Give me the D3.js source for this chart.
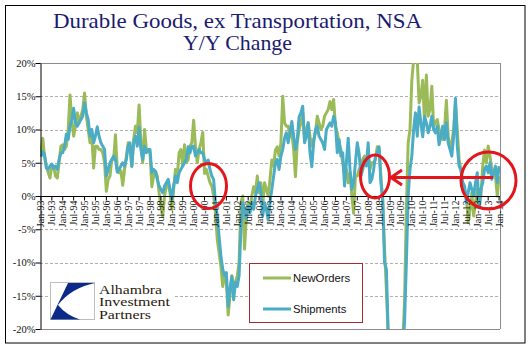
<!DOCTYPE html>
<html>
<head>
<meta charset="utf-8">
<script src="https://cdn.jsdelivr.net/npm/d3@7"></script>
<style>
  body { margin: 0; background: #fff; }
  svg { display: block; }
</style>
</head>
<body>
<svg id="chart" width="529" height="350"></svg>
<script>
// ---- Data (Y/Y % change, monthly, Jan-93 .. Jan-14) ----
const tickLabels = ["Jan-93","Jul-93","Jan-94","Jul-94","Jan-95","Jul-95","Jan-96","Jul-96",
  "Jan-97","Jul-97","Jan-98","Jul-98","Jan-99","Jul-99","Jan-00","Jul-00","Jan-01","Jul-01",
  "Jan-02","Jul-02","Jan-03","Jul-03","Jan-04","Jul-04","Jan-05","Jul-05","Jan-06","Jul-06",
  "Jan-07","Jul-07","Jan-08","Jul-08","Jan-09","Jul-09","Jan-10","Jul-10","Jan-11","Jul-11",
  "Jan-12","Jul-12","Jan-13","Jul-13","Jan-14"];

const newOrders = [
  6.5, 8.7, 6.0, 4.5, 3.5, 2.7, 4.5, 4.5, 3.0, 2.7, 5.0, 7.5,
  7.7, 7.0, 7.5, 10.0, 15.2, 11.5, 9.0, 10.5, 12.5, 11.0, 12.0, 13.0,
  15.5, 12.0, 10.0, 8.0, 9.0, 4.2, 7.5, 7.5, 7.0, 7.0, 6.5, 5.0,
  0.7, 2.5, 3.0, 5.5, 5.5, 9.2, 4.0, 3.5, 3.8, 1.6, 4.0, 6.0,
  8.0, 7.5, 4.4, 8.5, 10.5, 9.5, 13.7, 8.0, 5.0, 10.0, 7.0, 6.7,
  6.5, 1.4, 3.0, 3.7, 3.0, 0.5, -1.5, -3.0, 0.0, 1.5, 2.0, 0.5,
  -2.0, 1.0, 4.0, 3.0, 6.5, 7.0, 4.5, 7.7, 5.0, 5.5, 7.5, 8.0,
  11.4, 7.5, 5.0, 7.0, 8.0, 9.6, 3.4, 4.0, 3.0, 2.0, 1.5, 0.0,
  -2.5, -6.6, -8.5, -10.6, -13.6, -12.0, -13.0, -17.9, -15.0, -12.0, -13.5, -13.0,
  -12.0, -10.0, -1.0, 0.0, -8.0, -3.0, -1.0, -2.0, 0.0, 1.4, 0.5, 3.0,
  0.5, 2.0, -1.5, 2.0, 1.0, 0.0, 2.5, 5.4, 4.5, 6.9, 7.4, 6.0,
  8.0, 15.0, 11.0, 10.5, 10.5, 9.0, 9.5, 7.0, 2.9, 8.0, 10.0, 11.0,
  12.5, 8.5, 10.0, 11.0, 9.0, 7.5, 8.5, 9.5, 12.0, 11.0, 10.0, 10.5,
  12.0, 12.5, 13.0, 14.2, 13.0, 14.5, 10.5, 9.5, 8.0, 7.0, 5.0, 3.0,
  4.0, 2.0, 3.5, 0.0, -2.6, 3.0, 3.0, 4.0, 4.5, 5.5, 6.0, 5.0,
  6.2, 4.0, 5.0, 5.0, 5.5, 7.4, 7.0, 3.0, -1.0, -8.0, -14.0, -21.0,
  -24.0, -27.0, -28.0, -27.0, -26.0, -25.0, -24.0, -22.0, -16.0, -2.0, 8.0, 10.0,
  17.4, 20.5, 21.0, 20.5, 14.0, 15.0, 17.4, 11.0, 18.2, 12.0, 13.0, 16.5,
  10.5, 11.0, 11.5, 10.0, 9.0, 8.5, 10.0, 14.4, 9.0, 7.2, 8.0, 10.0,
  14.0, 10.0, 5.5, 4.0, 2.0, 1.0, 0.0, -4.0, -2.0, 0.5, -3.0, -1.0,
  1.0, -1.5, 0.0, 4.5, 6.9, 5.0, 7.5, 6.0, 4.0, 3.5, 3.0, 0.0,
  3.0
];

const shipments = [
  5.9, 6.7, 6.2, 4.2, 4.0, 4.5, 4.8, 4.2, 4.5, 4.0, 5.5, 6.5,
  6.5, 7.5, 9.3, 8.5, 10.5, 11.5, 13.2, 11.0, 10.5, 11.0, 11.5, 12.0,
  14.0, 12.5, 11.5, 9.0, 10.0, 8.0, 9.0, 10.4, 9.0, 8.0, 7.5, 7.0,
  3.0, 4.0, 5.0, 5.5, 6.0, 5.5, 3.6, 4.0, 4.5, 5.0, 4.5, 5.5,
  7.5, 8.0, 4.5, 8.0, 9.0, 7.5, 10.3, 7.0, 5.5, 7.5, 6.5, 7.0,
  7.0, 3.5, 4.0, 3.7, 2.5, 1.5, 1.0, 0.5, 1.5, 2.0, 2.5, 1.0,
  -0.5, 1.5, 3.0, 2.0, 3.5, 4.0, 4.5, 5.0, 5.5, 7.4, 6.5, 7.5,
  7.5, 6.0, 6.5, 7.0, 6.5, 6.5, 5.5, 5.0, 5.4, 4.0, 3.0, 2.5,
  -1.0, -3.0, -6.1, -9.0, -11.0, -12.0, -11.5, -16.6, -14.0, -12.1, -15.6, -13.0,
  -13.6, -12.0, -5.0, -1.0, -2.0, -3.5, -1.5, -2.5, -1.0, -2.0, 0.0, 1.0,
  2.0, 0.5, -3.0, -1.0, -2.0, -3.6, -1.0, 1.0, 3.0, 5.0, 5.5, 4.0,
  6.0, 7.0, 8.7, 9.5, 8.0, 9.5, 11.2, 9.0, 7.0, 8.5, 11.9, 12.5,
  13.5, 8.0, 9.0, 11.0, 6.5, 4.4, 8.0, 10.0, 10.5, 9.0, 8.5, 8.0,
  7.0, 10.0, 10.5, 11.0, 10.5, 12.0, 11.0, 6.5, 8.5, 6.0, 6.5, 1.5,
  5.0, 8.7, 4.0, 1.0, 2.0, 5.0, 8.0, 6.4, 3.0, 4.0, 5.5, 4.5,
  8.0, 2.0, 2.5, 4.0, 6.0, 6.5, 7.4, 2.0, -0.3, -10.0, -11.0, -20.5,
  -23.0, -26.0, -27.0, -27.0, -26.0, -25.0, -24.0, -23.0, -19.0, -10.0, 0.0, 4.0,
  6.0, 10.0, 12.5, 9.0, 13.4, 11.0, 8.9, 12.0, 11.0, 9.5, 10.5, 12.0,
  10.0, 9.5, 10.5, 7.7, 9.0, 10.5, 8.5, 11.0, 8.0, 7.0, 6.0, 9.0,
  14.7, 7.5, 4.5, 3.9, 2.0, 1.5, -1.0, 0.5, 2.0, 1.0, 0.0, 2.0,
  3.5, -1.8, 1.0, 2.0, 4.0, 4.5, 3.5, 5.0, 2.5, 3.5, 4.5, 2.0,
  4.5
];

const yTicks = [-20, -15, -10, -5, 0, 5, 10, 15, 20];
const seriesNames = ["NewOrders", "Shipments"];
const seriesColors = ["#9BBB59", "#4BACC6"];
const logoLines = ["Alhambra", "Investment", "Partners"];

// ---- Layout ----
const svg = d3.select("#chart");
const L = 40, R = 500, T = 63, B = 329;

svg.append("rect").attr("x", 0).attr("y", 0).attr("width", 529).attr("height", 350).attr("fill", "#fff");
svg.append("rect").attr("x", 5.5).attr("y", 5.5).attr("width", 519.5).attr("height", 337.5)
  .attr("fill", "none").attr("stroke", "#000").attr("stroke-width", 1);

const idx = d3.range(newOrders.length);
const x = d3.scaleBand().domain(idx).range([L, R]).paddingInner(0).paddingOuter(0);
const xc = i => x(i) + x.bandwidth() / 2;
const y = d3.scaleLinear().domain([-20, 20]).range([B, T]);

// Title
const title = svg.append("g").attr("font-family", "'Liberation Serif', 'Times New Roman', serif")
  .attr("fill", "#1B1B6F").attr("text-anchor", "middle");
title.append("text").attr("x", 237.5).attr("y", 28).attr("font-size", 21)
  .attr("textLength", 369).attr("lengthAdjust", "spacingAndGlyphs")
  .text("Durable Goods, ex Transportation,  NSA");
title.append("text").attr("x", 237.5).attr("y", 50).attr("font-size", 21)
  .attr("textLength", 109).attr("lengthAdjust", "spacingAndGlyphs")
  .text("Y/Y Change");

// Gridlines
svg.append("g").selectAll("line").data(yTicks.filter(v => v !== 0))
  .join("line")
  .attr("x1", L).attr("x2", R)
  .attr("y1", d => Math.round(y(d)) + 0.5).attr("y2", d => Math.round(y(d)) + 0.5)
  .attr("stroke", d => Math.abs(d) === 20 ? "#8c8c8c" : "#b0b0b0")
  .attr("stroke-width", 1)
  .attr("stroke-dasharray", d => Math.abs(d) === 20 ? null : "3,2");
svg.append("line").attr("x1", R + 0.5).attr("x2", R + 0.5).attr("y1", T).attr("y2", B)
  .attr("stroke", "#8c8c8c");

// Clip
svg.append("defs").append("clipPath").attr("id", "plotclip")
  .append("rect").attr("x", L).attr("y", T).attr("width", R - L).attr("height", B - T);

// Logo
const logo = svg.append("g");
logo.append("rect").attr("x", 48).attr("y", 279).attr("width", 126).attr("height", 44).attr("fill", "#fff");
logo.append("rect").attr("x", 50.5).attr("y", 282.5).attr("width", 44).attr("height", 37)
  .attr("fill", "#fff").attr("stroke", "#bdbdbd").attr("stroke-width", 1);
logo.append("path").attr("d", "M68,283 L95,283 Q71,288 58,305 Q66,315 80,319.5 L50.5,319.5 Z")
  .attr("fill", "#0B2A8A");
const lt = logo.append("g").attr("font-family", "'Liberation Serif', 'Times New Roman', serif")
  .attr("font-size", 12.5).attr("fill", "#2a1a10");
const logoLens = [63, 71, 52];
logoLines.forEach((t, k) => {
  lt.append("text").attr("x", 99).attr("y", 293.5 + k * 12.5)
    .attr("textLength", logoLens[k]).attr("lengthAdjust", "spacingAndGlyphs").text(t);
});

// Lines
const line = d3.line().x((d, i) => xc(i)).y(d => y(d));
const plot = svg.append("g").attr("clip-path", "url(#plotclip)");
[newOrders, shipments].forEach((s, k) => {
  plot.append("path").datum(s).attr("d", line)
    .attr("fill", "none").attr("stroke", seriesColors[k]).attr("stroke-width", 3)
    .attr("stroke-linejoin", "round");
});

// Y axis
const yAxis = d3.axisLeft(y).tickValues(yTicks).tickFormat(d => d + "%").tickSize(5).tickSizeOuter(0);
const ya = svg.append("g").attr("transform", `translate(${L + 0.5},0)`).call(yAxis);
ya.selectAll("path, line").attr("stroke", "#000");
ya.selectAll("text").attr("font-family", "'Liberation Serif', 'Times New Roman', serif")
  .attr("font-size", 10.5).attr("fill", "#111").attr("x", -5);

// X axis at 0%
const tickIdx = tickLabels.map((_, j) => j * 6);
const y0 = Math.round(y(0)) + 0.5;
const xAxis = d3.axisBottom(x).tickValues(tickIdx).tickFormat((d, j) => tickLabels[j]).tickSize(4).tickSizeOuter(0);
const xa = svg.append("g").attr("transform", `translate(0,${y0})`).call(xAxis);
xa.select(".domain").attr("d", `M${L},0H${R}`).attr("stroke", "#000");
xa.selectAll("line").attr("stroke", "#000");
xa.selectAll("text")
  .attr("font-family", "'Liberation Serif', 'Times New Roman', serif")
  .attr("font-size", 10).attr("fill", "#111")
  .attr("text-anchor", "end")
  .attr("transform", "rotate(-90)")
  .attr("x", -4).attr("y", 0).attr("dy", "0.35em");

// Legend
const lg = svg.append("g");
lg.append("rect").attr("x", 249.5).attr("y", 263.5).attr("width", 113).attr("height", 59)
  .attr("fill", "#fff").attr("stroke", "#A52A2F").attr("stroke-width", 1);
seriesNames.forEach((n, k) => {
  const yy = 278 + k * 31;
  lg.append("line").attr("x1", 263).attr("x2", 291).attr("y1", yy).attr("y2", yy)
    .attr("stroke", seriesColors[k]).attr("stroke-width", 3);
  lg.append("text").attr("x", 293).attr("y", yy).attr("dy", "0.35em")
    .attr("font-family", "'Liberation Sans', Arial, sans-serif").attr("font-size", 11.3)
    .attr("fill", "#111").text(n);
});

// Annotations
const red = "#E3161B";
const ann = svg.append("g").attr("fill", "none").attr("stroke", red).attr("stroke-width", 3);
ann.append("ellipse").attr("cx", 208.5).attr("cy", 186).attr("rx", 18).attr("ry", 22.5);
ann.append("ellipse").attr("cx", 375).attr("cy", 176.5).attr("rx", 14.5).attr("ry", 21.5);
ann.append("ellipse").attr("cx", 488.5).attr("cy", 180.5).attr("rx", 27.5).attr("ry", 28.5);
ann.append("line").attr("x1", 493).attr("x2", 392).attr("y1", 177.5).attr("y2", 177.5);
ann.append("path").attr("d", "M402,170 L391,177.5 L402,185").attr("stroke-linejoin", "miter");
</script>
</body>
</html>
